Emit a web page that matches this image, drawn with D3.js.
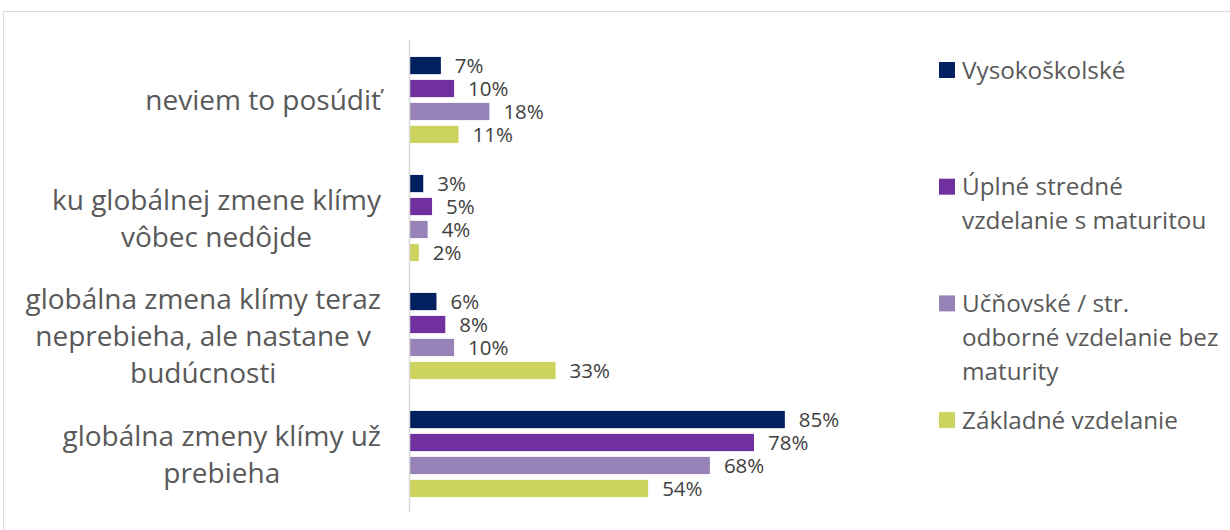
<!DOCTYPE html>
<html><head><meta charset="utf-8">
<script src="https://cdn.jsdelivr.net/npm/d3@7"></script>
<style>body{margin:0;background:#fff}svg{display:block}</style>
</head><body><svg id="c" width="1230" height="530"></svg>
<script>
const categories = [
  ["neviem to posúdiť"],
  ["ku globálnej zmene klímy", "vôbec nedôjde"],
  ["globálna zmena klímy teraz", "neprebieha, ale nastane v", "budúcnosti"],
  ["globálna zmeny klímy už", "prebieha"]
];
const seriesNames = ["Vysokoškolské", "Úplné stredné vzdelanie s maturitou", "Učňovské / str. odborné vzdelanie bez maturity", "Základné vzdelanie"];
const legendLines = [
  ["Vysokoškolské"],
  ["Úplné stredné", "vzdelanie s maturitou"],
  ["Učňovské / str.", "odborné vzdelanie bez", "maturity"],
  ["Základné vzdelanie"]
];
const vysokoskolske = [7, 3, 6, 85];
const uplneStredne = [10, 5, 8, 78];
const ucnovske = [18, 4, 10, 68];
const zakladne = [11, 2, 33, 54];
const colors = ["#002060", "#7030A0", "#9783B7", "#CCD45F"];

const series = [vysokoskolske, uplneStredne, ucnovske, zakladne];
const svg = d3.select("#c");
const font = "'Open Sans', sans-serif";

svg.append("rect").attr("x", 3.5).attr("y", 11.5).attr("width", 1240).attr("height", 540)
  .attr("fill", "none").attr("stroke", "#D9D9D9").attr("stroke-width", 1);

const x = d3.scaleLinear().domain([0, 100]).range([410, 851]);
const y = d3.scaleBand().domain(d3.range(categories.length)).range([41, 513]).paddingInner(0.27).paddingOuter(0.135);
const yi = d3.scaleBand().domain(d3.range(series.length)).range([0, y.bandwidth()]).paddingInner(0.25);

const g = svg.append("g");
categories.forEach((c, ci) => {
  series.forEach((s, si) => {
    const y0 = y(ci) + yi(si);
    g.append("rect").attr("x", x(0)).attr("y", y0).attr("width", x(s[ci]) - x(0)).attr("height", yi.bandwidth())
      .attr("fill", colors[si]);
    g.append("text").attr("x", x(s[ci]) + 14).attr("y", y0 + yi.bandwidth() / 2).attr("dy", "0.36em")
      .attr("font-family", font).attr("font-size", 20.5).attr("fill", "#404040").text(s[ci] + "%");
  });
});

svg.append("line").attr("x1", 409.5).attr("x2", 409.5).attr("y1", 40).attr("y2", 512)
  .attr("stroke", "#D9D9D9").attr("stroke-width", 1.5);

// category labels
const lh = 37;
categories.forEach((lines, ci) => {
  const cy = y(ci) + y.bandwidth() / 2;
  const t = svg.append("text").attr("font-family", font).attr("font-size", 28).attr("fill", "#595959").attr("text-anchor", "middle");
  const spans = lines.map((l, li) => t.append("tspan").attr("y", cy + (li - (lines.length - 1) / 2) * lh).attr("dy", "0.36em").text(l));
  const maxW = d3.max(spans, s => s.node().getComputedTextLength());
  spans.forEach(s => s.attr("x", 381 - maxW / 2));
});

// legend
const llh = 34;
legendLines.forEach((lines, i) => {
  const cy = 70 + i * 116.7;
  svg.append("rect").attr("x", 939).attr("y", cy - 8).attr("width", 16).attr("height", 16).attr("fill", colors[i]);
  const t = svg.append("text").attr("font-family", font).attr("font-size", 24.3).attr("fill", "#595959");
  lines.forEach((l, li) => t.append("tspan").attr("x", 962).attr("y", cy + li * llh).attr("dy", "0.36em").text(l));
});
</script></body></html>
